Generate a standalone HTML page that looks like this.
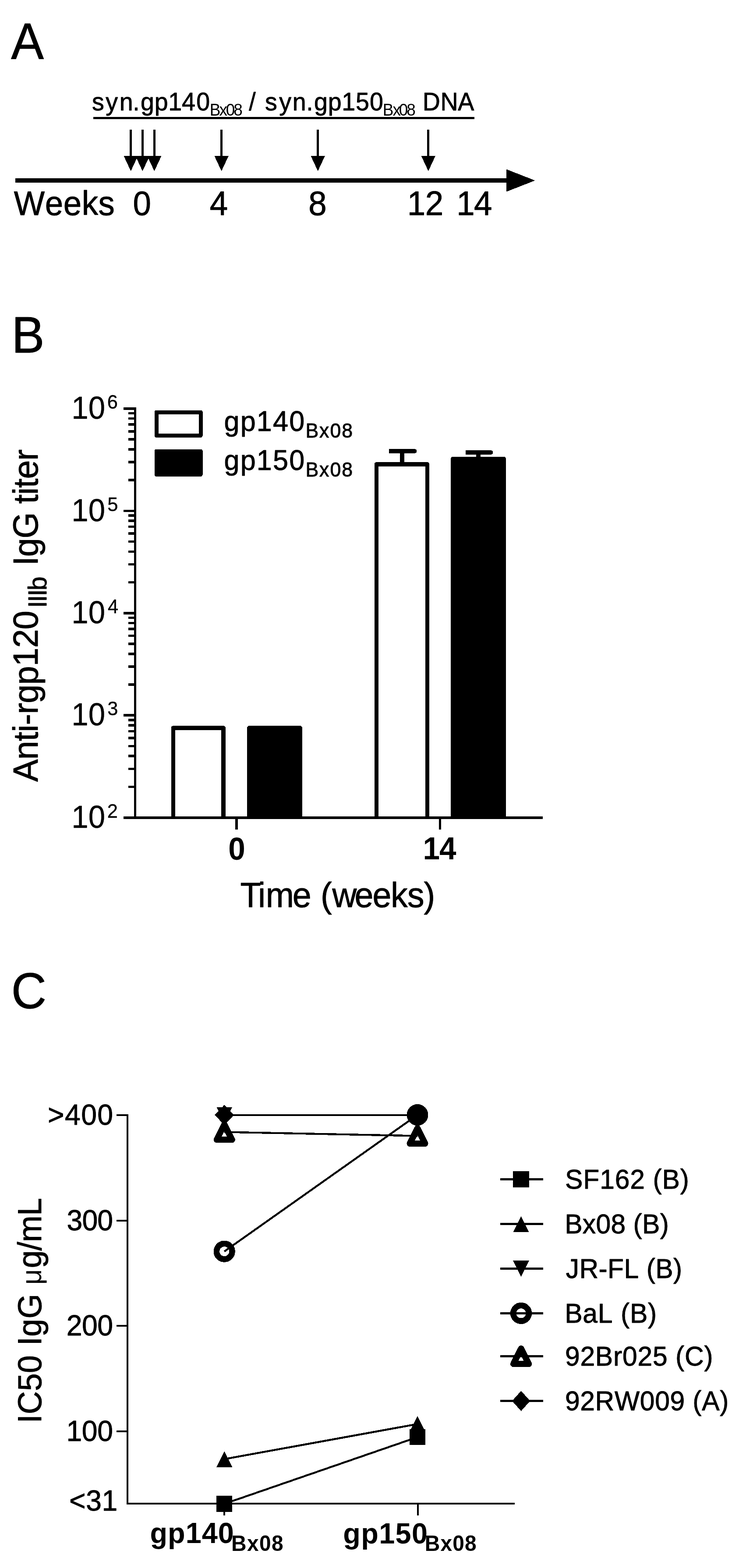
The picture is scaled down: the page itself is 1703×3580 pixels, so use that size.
<!DOCTYPE html>
<html lang="en">
<head>
<meta charset="utf-8">
<title>Figure: DNA immunisation schedule, anti-rgp120 IgG titers and neutralisation IC50</title>
<style>
html,body{margin:0;padding:0;background:#fff;}
body{width:1703px;height:3580px;overflow:hidden;}
svg{display:block;}
svg text{font-family:"Liberation Sans", Arial, Helvetica, sans-serif;fill:#000;font-kerning:none;white-space:pre;stroke-linejoin:round;}
</style>
</head>
<body>
<svg width="1703" height="3580" viewBox="0 0 1703 3580" shape-rendering="crispEdges">
<rect x="0" y="0" width="1703" height="3580" fill="#fff"/>
<g id="panelA">
<text transform="translate(0,134.8) scale(1,1.04)"><tspan x="25.23" y="0" font-size="112" stroke="#000" stroke-width="0.9">A</tspan></text>
<text transform="translate(0,251.9) scale(1,1.04)"><tspan x="210 241.31 272.76 303.17 320.92 352.77 384.3 414.97 448.18" y="0" font-size="55.6" stroke="#000" stroke-width="0.9">syn.gp140</tspan><tspan x="478.66 500.58 515.85 533.29" y="11.63" font-size="37">Bx08</tspan><tspan x="552.8 568.25" y="0" font-size="55.6" stroke="#000" stroke-width="0.9"> /</tspan><tspan x="589.56 605 637.31 667.76 699.37 716.92 748.77 780.3 811.92 844.08" y="0" font-size="55.6" stroke="#000" stroke-width="0.9"> syn.gp150</tspan><tspan x="873.76 896.48 910.85 928.29" y="11.63" font-size="37">Bx08</tspan><tspan x="949.34 964.79 1005.59 1045.24" y="0" font-size="55.6" stroke="#000" stroke-width="0.9"> DNA</tspan></text>
<line x1="212.7" y1="269.3" x2="1082.8" y2="269.3" stroke="#000" stroke-width="5.2"/>
<line x1="298.7" y1="296.3" x2="298.7" y2="360" stroke="#000" stroke-width="5"/>
<polygon points="282.7,356.4 314.7,356.4 298.7,390.7" fill="#000"/>
<line x1="325.4" y1="296.3" x2="325.4" y2="360" stroke="#000" stroke-width="5"/>
<polygon points="309.4,356.4 341.4,356.4 325.4,390.7" fill="#000"/>
<line x1="352.3" y1="296.3" x2="352.3" y2="360" stroke="#000" stroke-width="5"/>
<polygon points="336.3,356.4 368.3,356.4 352.3,390.7" fill="#000"/>
<line x1="505.6" y1="296.3" x2="505.6" y2="360" stroke="#000" stroke-width="5"/>
<polygon points="489.6,356.4 521.6,356.4 505.6,390.7" fill="#000"/>
<line x1="725.7" y1="296.3" x2="725.7" y2="360" stroke="#000" stroke-width="5"/>
<polygon points="709.7,356.4 741.7,356.4 725.7,390.7" fill="#000"/>
<line x1="977.8" y1="296.3" x2="977.8" y2="360" stroke="#000" stroke-width="5"/>
<polygon points="961.8,356.4 993.8,356.4 977.8,390.7" fill="#000"/>
<line x1="35" y1="411.8" x2="1160" y2="411.8" stroke="#000" stroke-width="10"/>
<polygon points="1156,386.5 1221.5,412.1 1156,437.7" fill="#000"/>
<text transform="translate(0,491) scale(1,1.04)"><tspan x="31.82" y="0" font-size="74.5" letter-spacing="0.58" stroke="#000" stroke-width="0.9">Weeks</tspan></text>
<text transform="translate(0,491) scale(1,1.04)"><tspan x="303.54" y="0" font-size="74.5" stroke="#000" stroke-width="0.9">0</tspan></text>
<text transform="translate(0,491) scale(1,1.04)"><tspan x="478.74" y="0" font-size="74.5" stroke="#000" stroke-width="0.9">4</tspan></text>
<text transform="translate(0,491) scale(1,1.04)"><tspan x="704.21" y="0" font-size="74.5" stroke="#000" stroke-width="0.9">8</tspan></text>
<text transform="translate(0,491) scale(1,1.04)"><tspan x="929.84" y="0" font-size="74.5" letter-spacing="-0.41" stroke="#000" stroke-width="0.9">12</tspan></text>
<text transform="translate(0,491) scale(1,1.04)"><tspan x="1042.14" y="0" font-size="74.5" letter-spacing="-1.57" stroke="#000" stroke-width="0.9">14</tspan></text>
</g>
<g id="panelB">
<text transform="translate(0,805) scale(1,1.04)"><tspan x="26.52" y="0" font-size="112.5" stroke="#000" stroke-width="0.9">B</tspan></text>
<line x1="918.2" y1="1030" x2="918.2" y2="1060" stroke="#000" stroke-width="9.6"/>
<path d="M887.8,1025.2 H946.7 A4.8,4.8 0 0 1 946.7,1034.8 H887.8 Z" fill="#000"/>
<line x1="1092.2" y1="1033" x2="1092.2" y2="1048" stroke="#000" stroke-width="9.6"/>
<path d="M1062.8,1028.2 H1120.7 A4.8,4.8 0 0 1 1120.7,1037.8 H1062.8 Z" fill="#000"/>
<path d="M395.5,1866.7 L395.5,1662 L510,1662 L510,1866.7" fill="#fff" stroke="#000" stroke-width="9.6" stroke-linejoin="round"/>
<path d="M569,1866.7 L569,1662 L685,1662 L685,1866.7" fill="#000" stroke="#000" stroke-width="9.6" stroke-linejoin="round"/>
<path d="M859.3,1866.7 L859.3,1060 L975.4,1060 L975.4,1866.7" fill="#fff" stroke="#000" stroke-width="9.6" stroke-linejoin="round"/>
<path d="M1034,1866.7 L1034,1047.5 L1150,1047.5 L1150,1866.7" fill="#000" stroke="#000" stroke-width="9.6" stroke-linejoin="round"/>
<line x1="308.5" y1="930.2" x2="308.5" y2="1869.5" stroke="#000" stroke-width="5.6"/>
<line x1="281.5" y1="1866.7" x2="1238.5" y2="1866.7" stroke="#000" stroke-width="5.6"/>
<line x1="281.5" y1="933" x2="308.5" y2="933" stroke="#000" stroke-width="5.6"/>
<line x1="293.3" y1="1096.16" x2="308.5" y2="1096.16" stroke="#000" stroke-width="5.6"/>
<line x1="293.3" y1="1055.05" x2="308.5" y2="1055.05" stroke="#000" stroke-width="5.6"/>
<line x1="293.3" y1="1025.89" x2="308.5" y2="1025.89" stroke="#000" stroke-width="5.6"/>
<line x1="293.3" y1="1003.27" x2="308.5" y2="1003.27" stroke="#000" stroke-width="5.6"/>
<line x1="293.3" y1="984.79" x2="308.5" y2="984.79" stroke="#000" stroke-width="5.6"/>
<line x1="293.3" y1="969.16" x2="308.5" y2="969.16" stroke="#000" stroke-width="5.6"/>
<line x1="293.3" y1="955.62" x2="308.5" y2="955.62" stroke="#000" stroke-width="5.6"/>
<line x1="293.3" y1="943.68" x2="308.5" y2="943.68" stroke="#000" stroke-width="5.6"/>
<text transform="translate(0,956.2) scale(1,1.04)"><tspan x="163.29" y="0" font-size="69" stroke="#000" stroke-width="0.4">10</tspan><tspan x="244.69" y="-22.12" font-size="43.5" stroke="#000" stroke-width="0.4">6</tspan></text>
<line x1="281.5" y1="1166.42" x2="308.5" y2="1166.42" stroke="#000" stroke-width="5.6"/>
<line x1="293.3" y1="1329.58" x2="308.5" y2="1329.58" stroke="#000" stroke-width="5.6"/>
<line x1="293.3" y1="1288.48" x2="308.5" y2="1288.48" stroke="#000" stroke-width="5.6"/>
<line x1="293.3" y1="1259.31" x2="308.5" y2="1259.31" stroke="#000" stroke-width="5.6"/>
<line x1="293.3" y1="1236.69" x2="308.5" y2="1236.69" stroke="#000" stroke-width="5.6"/>
<line x1="293.3" y1="1218.21" x2="308.5" y2="1218.21" stroke="#000" stroke-width="5.6"/>
<line x1="293.3" y1="1202.58" x2="308.5" y2="1202.58" stroke="#000" stroke-width="5.6"/>
<line x1="293.3" y1="1189.05" x2="308.5" y2="1189.05" stroke="#000" stroke-width="5.6"/>
<line x1="293.3" y1="1177.11" x2="308.5" y2="1177.11" stroke="#000" stroke-width="5.6"/>
<text transform="translate(0,1189.62) scale(1,1.04)"><tspan x="163.29" y="0" font-size="69" stroke="#000" stroke-width="0.4">10</tspan><tspan x="245.16" y="-22.12" font-size="43.5" stroke="#000" stroke-width="0.4">5</tspan></text>
<line x1="281.5" y1="1399.85" x2="308.5" y2="1399.85" stroke="#000" stroke-width="5.6"/>
<line x1="293.3" y1="1563.01" x2="308.5" y2="1563.01" stroke="#000" stroke-width="5.6"/>
<line x1="293.3" y1="1521.9" x2="308.5" y2="1521.9" stroke="#000" stroke-width="5.6"/>
<line x1="293.3" y1="1492.74" x2="308.5" y2="1492.74" stroke="#000" stroke-width="5.6"/>
<line x1="293.3" y1="1470.12" x2="308.5" y2="1470.12" stroke="#000" stroke-width="5.6"/>
<line x1="293.3" y1="1451.64" x2="308.5" y2="1451.64" stroke="#000" stroke-width="5.6"/>
<line x1="293.3" y1="1436.01" x2="308.5" y2="1436.01" stroke="#000" stroke-width="5.6"/>
<line x1="293.3" y1="1422.47" x2="308.5" y2="1422.47" stroke="#000" stroke-width="5.6"/>
<line x1="293.3" y1="1410.53" x2="308.5" y2="1410.53" stroke="#000" stroke-width="5.6"/>
<text transform="translate(0,1423.05) scale(1,1.04)"><tspan x="163.29" y="0" font-size="69" stroke="#000" stroke-width="0.4">10</tspan><tspan x="245.9" y="-22.12" font-size="43.5" stroke="#000" stroke-width="0.4">4</tspan></text>
<line x1="281.5" y1="1633.28" x2="308.5" y2="1633.28" stroke="#000" stroke-width="5.6"/>
<line x1="293.3" y1="1796.43" x2="308.5" y2="1796.43" stroke="#000" stroke-width="5.6"/>
<line x1="293.3" y1="1755.33" x2="308.5" y2="1755.33" stroke="#000" stroke-width="5.6"/>
<line x1="293.3" y1="1726.16" x2="308.5" y2="1726.16" stroke="#000" stroke-width="5.6"/>
<line x1="293.3" y1="1703.54" x2="308.5" y2="1703.54" stroke="#000" stroke-width="5.6"/>
<line x1="293.3" y1="1685.06" x2="308.5" y2="1685.06" stroke="#000" stroke-width="5.6"/>
<line x1="293.3" y1="1669.43" x2="308.5" y2="1669.43" stroke="#000" stroke-width="5.6"/>
<line x1="293.3" y1="1655.9" x2="308.5" y2="1655.9" stroke="#000" stroke-width="5.6"/>
<line x1="293.3" y1="1643.96" x2="308.5" y2="1643.96" stroke="#000" stroke-width="5.6"/>
<text transform="translate(0,1656.48) scale(1,1.04)"><tspan x="163.29" y="0" font-size="69" stroke="#000" stroke-width="0.4">10</tspan><tspan x="245.24" y="-22.12" font-size="43.5" stroke="#000" stroke-width="0.4">3</tspan></text>
<line x1="281.5" y1="1866.7" x2="308.5" y2="1866.7" stroke="#000" stroke-width="5.6"/>
<text transform="translate(0,1889.9) scale(1,1.04)"><tspan x="163.29" y="0" font-size="69" stroke="#000" stroke-width="0.4">10</tspan><tspan x="244.71" y="-22.12" font-size="43.5" stroke="#000" stroke-width="0.4">2</tspan></text>
<line x1="539.8" y1="1866.7" x2="539.8" y2="1893.6" stroke="#000" stroke-width="5.6"/>
<line x1="1004.5" y1="1866.7" x2="1004.5" y2="1893.6" stroke="#000" stroke-width="5.6"/>
<text transform="translate(0,1962.6) scale(1,1.04)"><tspan x="521.18" y="0" font-size="69.3" font-weight="bold">0</tspan></text>
<text transform="translate(0,1962.4) scale(1,1.04)"><tspan x="965.45" y="0" font-size="69.3" font-weight="bold" letter-spacing="-1.06">14</tspan></text>
<text transform="translate(0,2071) scale(1,1.04)"><tspan x="548.52 588.99 606.72 667.77 712.45 731.96 758.56 809.57 850.47 891.95 930.1 967.6" y="0" font-size="77.2" stroke="#000" stroke-width="0.9">Time (weeks)</tspan></text>
<rect x="357" y="941" width="101.2" height="53.5" fill="#fff" stroke="#000" stroke-width="9" stroke-linejoin="round"/>
<rect x="357" y="1030" width="101.2" height="53.5" fill="#000" stroke="#000" stroke-width="9" stroke-linejoin="round"/>
<text transform="translate(0,983.7) scale(1,1.04)"><tspan x="511.5" y="0" font-size="63" letter-spacing="2.15" stroke="#000" stroke-width="0.9">gp140</tspan><tspan x="697.39" y="14.9" font-size="44.6" letter-spacing="1.98" stroke="#000" stroke-width="0.9">Bx08</tspan></text>
<text transform="translate(0,1072.7) scale(1,1.04)"><tspan x="511.5" y="0" font-size="63" letter-spacing="2.15" stroke="#000" stroke-width="0.9">gp150</tspan><tspan x="697.39" y="14.9" font-size="44.6" letter-spacing="1.98" stroke="#000" stroke-width="0.9">Bx08</tspan></text>
<g transform="translate(86,0) rotate(-90)">
<text transform="translate(0,0) scale(1,1.04)"><tspan x="-1785.1" y="0" font-size="77.2" letter-spacing="-0.83" stroke="#000" stroke-width="0.9">Anti-rgp120</tspan><tspan x="-1387.69" y="19.33" font-size="56.8" letter-spacing="-2.57" stroke="#000" stroke-width="0.9">IIIb</tspan><tspan x="-1313.02 -1291.57" y="0" font-size="77.2" letter-spacing="-1.13" stroke="#000" stroke-width="0.9"> IgG titer</tspan></text>
</g>
</g>
<g id="panelC">
<text transform="translate(0,2302.3) scale(1,1.04)"><tspan x="25.81" y="0" font-size="111" stroke="#000" stroke-width="0.9">C</tspan></text>
<circle cx="512.2" cy="2857.2" r="17.8" fill="#fff" stroke="#000" stroke-width="13.6"/>
<polygon points="494.7,2602.1 529.7,2602.1 512.2,2567.1" fill="#fff" stroke="#000" stroke-width="14.2" stroke-linejoin="round"/>
<polygon points="935.5,2610.9 970.5,2610.9 953,2575.9" fill="#fff" stroke="#000" stroke-width="14.2" stroke-linejoin="round"/>
<line x1="512.2" y1="3433.5" x2="953" y2="3281.2" stroke="#000" stroke-width="4.4"/>
<line x1="512.2" y1="3331.4" x2="953" y2="3251.3" stroke="#000" stroke-width="4.4"/>
<line x1="512.2" y1="2545.7" x2="953" y2="2545.7" stroke="#000" stroke-width="4.4"/>
<line x1="512.2" y1="2857.2" x2="953" y2="2545.5" stroke="#000" stroke-width="4.4"/>
<line x1="512.2" y1="2584.6" x2="953" y2="2593.4" stroke="#000" stroke-width="4.4"/>
<rect x="494" y="3415.3" width="36.4" height="36.4" fill="#000"/>
<rect x="934.8" y="3263" width="36.4" height="36.4" fill="#000"/>
<polygon points="494,3349.6 530.4,3349.6 512.2,3313.2" fill="#000"/>
<polygon points="934.8,3269.5 971.2,3269.5 953,3233.1" fill="#000"/>
<polygon points="494,2527.5 530.4,2527.5 512.2,2563.9" fill="#000"/>
<polygon points="934.8,2527.5 971.2,2527.5 953,2563.9" fill="#000"/>
<circle cx="953" cy="2545.5" r="24.5" fill="#000"/>
<polygon points="490.2,2545.7 512.2,2522.7 534.2,2545.7 512.2,2568.7" fill="#000"/>
<polygon points="931,2545.7 953,2522.7 975,2545.7 953,2568.7" fill="#000"/>
<line x1="290.9" y1="2544.25" x2="290.9" y2="3435.15" stroke="#000" stroke-width="3.9"/>
<line x1="290.9" y1="3433.2" x2="1175" y2="3433.2" stroke="#000" stroke-width="3.9"/>
<line x1="266" y1="2546.2" x2="290.9" y2="2546.2" stroke="#000" stroke-width="3.9"/>
<line x1="266" y1="2786.9" x2="290.9" y2="2786.9" stroke="#000" stroke-width="3.9"/>
<line x1="266" y1="3027.4" x2="290.9" y2="3027.4" stroke="#000" stroke-width="3.9"/>
<line x1="266" y1="3268.1" x2="290.9" y2="3268.1" stroke="#000" stroke-width="3.9"/>
<line x1="512.4" y1="3433.2" x2="512.4" y2="3459.5" stroke="#000" stroke-width="3.9"/>
<line x1="953.6" y1="3433.2" x2="953.6" y2="3459.5" stroke="#000" stroke-width="3.9"/>
<text transform="translate(0,2567.7) scale(1,1.04)"><tspan x="109.08" y="0" font-size="64.3" letter-spacing="1.38" stroke="#000" stroke-width="0.9">&gt;400</tspan></text>
<text transform="translate(0,2808.9) scale(1,1.04)"><tspan x="152.6" y="0" font-size="64.3" letter-spacing="-0.91" stroke="#000" stroke-width="0.9">300</tspan></text>
<text transform="translate(0,3049.3) scale(1,1.04)"><tspan x="151.82" y="0" font-size="64.3" letter-spacing="-0.52" stroke="#000" stroke-width="0.9">200</tspan></text>
<text transform="translate(0,3290) scale(1,1.04)"><tspan x="151.45" y="0" font-size="64.3" letter-spacing="-0.33" stroke="#000" stroke-width="0.9">100</tspan></text>
<text transform="translate(0,3448.7) scale(1,1.04)"><tspan x="157.98" y="0" font-size="64.3" letter-spacing="0.68" stroke="#000" stroke-width="0.9">&lt;31</tspan></text>
<text transform="translate(0,3523.3) scale(1,1.04)"><tspan x="342.44" y="0" font-size="64.8" font-weight="bold" letter-spacing="1.03">gp140</tspan><tspan x="528.1" y="17.21" font-size="47.9" font-weight="bold" letter-spacing="1.32">Bx08</tspan></text>
<text transform="translate(0,3524) scale(1,1.04)"><tspan x="783.34" y="0" font-size="64.8" font-weight="bold" letter-spacing="1.36">gp150</tspan><tspan x="969.8" y="16.54" font-size="47.9" font-weight="bold" letter-spacing="1.09">Bx08</tspan></text>
<g transform="translate(94,0) rotate(-90)">
<text transform="translate(0,0) scale(1,1.04)"><tspan x="-3249.49" y="0" font-size="73" letter-spacing="0.3" stroke="#000" stroke-width="0.9">IC50</tspan><tspan x="-3092.57 -3072.29" y="0" font-size="73" letter-spacing="0.31" stroke="#000" stroke-width="0.9"> IgG</tspan><tspan x="-2950.4 -2933.18" y="0" font-size="62"> μ</tspan><tspan x="-2895.22" y="0" font-size="73" letter-spacing="-0.77" stroke="#000" stroke-width="0.9">g/mL</tspan></text>
</g>
<line x1="1141.9" y1="2692.4" x2="1240" y2="2692.4" stroke="#000" stroke-width="5"/>
<rect x="1171.4" y="2674.2" width="36.4" height="36.4" fill="#000"/>
<text transform="translate(0,2714.2) scale(1,1.04)"><tspan x="1290" y="0" font-size="60.6" letter-spacing="0.86" stroke="#000" stroke-width="0.9">SF162 (B)</tspan></text>
<line x1="1141.9" y1="2794.5" x2="1240" y2="2794.5" stroke="#000" stroke-width="5"/>
<polygon points="1171.4,2813.2 1207.8,2813.2 1189.6,2776.8" fill="#000"/>
<text transform="translate(0,2816.3) scale(1,1.04)"><tspan x="1289.18" y="0" font-size="60.6" letter-spacing="0.28" stroke="#000" stroke-width="0.9">Bx08 (B)</tspan></text>
<line x1="1141.9" y1="2896.5" x2="1240" y2="2896.5" stroke="#000" stroke-width="5"/>
<polygon points="1171.4,2878.3 1207.8,2878.3 1189.6,2914.7" fill="#000"/>
<text transform="translate(0,2918.3) scale(1,1.04)"><tspan x="1291.8" y="0" font-size="60.6" letter-spacing="0.37" stroke="#000" stroke-width="0.9">JR-FL (B)</tspan></text>
<circle cx="1189.6" cy="2998.4" r="17.8" fill="#fff" stroke="#000" stroke-width="13.6"/>
<line x1="1141.9" y1="2998.4" x2="1240" y2="2998.4" stroke="#000" stroke-width="5"/>
<text transform="translate(0,3020.2) scale(1,1.04)"><tspan x="1289.18" y="0" font-size="60.6" letter-spacing="0.78" stroke="#000" stroke-width="0.9">BaL (B)</tspan></text>
<polygon points="1172.1,3114.1 1207.1,3114.1 1189.6,3079.1" fill="#fff" stroke="#000" stroke-width="14.2" stroke-linejoin="round"/>
<line x1="1141.9" y1="3096.6" x2="1240" y2="3096.6" stroke="#000" stroke-width="5"/>
<text transform="translate(0,3118.4) scale(1,1.04)"><tspan x="1289.91" y="0" font-size="60.6" letter-spacing="0.78" stroke="#000" stroke-width="0.9">92Br025 (C)</tspan></text>
<line x1="1141.9" y1="3198.6" x2="1240" y2="3198.6" stroke="#000" stroke-width="5"/>
<polygon points="1169,3198.6 1189.6,3175.6 1210.2,3198.6 1189.6,3221.6" fill="#000"/>
<text transform="translate(0,3220.4) scale(1,1.04)"><tspan x="1289.91" y="0" font-size="60.6" letter-spacing="0.65" stroke="#000" stroke-width="0.9">92RW009 (A)</tspan></text>
</g>
</svg>
</body>
</html>
